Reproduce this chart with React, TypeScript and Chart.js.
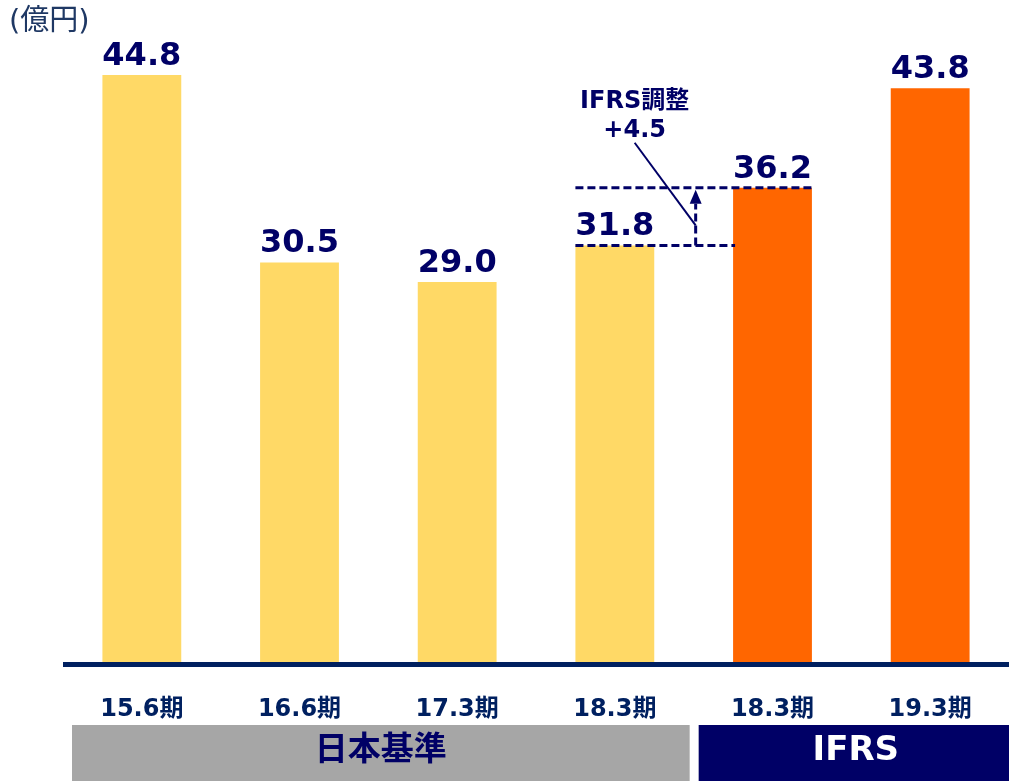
import React, { useEffect, useRef } from "react";
import { Chart, registerables } from "chart.js";

Chart.register(...registerables);

const categories = ["15.6期", "16.6期", "17.3期", "18.3期", "18.3期", "19.3期"];
const values = [44.8, 30.5, 29.0, 31.8, 36.2, 43.8];
const standards = ["jgaap", "jgaap", "jgaap", "jgaap", "ifrs", "ifrs"];
const groupLabels = ["日本基準", "IFRS"];
const unitLabel = "(億円)";
const adjustmentTitle = "IFRS調整";
const adjustmentValue = "+4.5";
const adjustmentFrom = 3; // index of 18.3期 (JGAAP)
const adjustmentTo = 4; // index of 18.3期 (IFRS)

const NAVY = "#000066";
const AXIS_NAVY = "#002060";
const LATIN = "'DejaVu Sans', 'Noto Sans CJK JP', sans-serif";

const overlayPlugin = {
  id: "overlay",
  afterDatasetsDraw(chart: any) {
    const { ctx, chartArea, scales } = chart;
    const x = scales.x;
    const y = scales.y;
    const meta = chart.getDatasetMeta(0);
    ctx.save();

    // unit label
    ctx.fillStyle = "#1F3864";
    ctx.font = `29px ${LATIN}`;
    ctx.textAlign = "left";
    ctx.textBaseline = "top";
    ctx.fillText(unitLabel, 9, 8);

    // value labels
    ctx.fillStyle = NAVY;
    ctx.font = `bold 32px ${LATIN}`;
    ctx.textAlign = "center";
    ctx.textBaseline = "alphabetic";
    meta.data.forEach((el: any, i: number) => {
      ctx.fillText(values[i].toFixed(1), el.x, el.y - 10);
    });

    // axis line
    ctx.fillStyle = AXIS_NAVY;
    ctx.fillRect(chartArea.left, chartArea.bottom, chart.width - chartArea.left, 5);

    // x labels
    ctx.fillStyle = AXIS_NAVY;
    ctx.font = `bold 24px ${LATIN}`;
    categories.forEach((c, i) => {
      ctx.fillText(c, x.getPixelForValue(i), 716);
    });

    // group boxes
    const split = x.getPixelForValue(3.5);
    const boxTop = 725;
    const boxH = chart.height - boxTop;
    ctx.fillStyle = "#A6A6A6";
    ctx.fillRect(chartArea.left + 9, boxTop, split - 4 - (chartArea.left + 9), boxH);
    ctx.fillStyle = NAVY;
    ctx.fillRect(split + 5, boxTop, chart.width - (split + 5), boxH);
    ctx.textBaseline = "middle";
    ctx.fillStyle = NAVY;
    ctx.font = `bold 33px ${LATIN}`;
    ctx.fillText(groupLabels[0], (chartArea.left + 9 + split - 4) / 2, 751);
    ctx.fillStyle = "#FFFFFF";
    ctx.font = `bold 34px ${LATIN}`;
    ctx.fillText(groupLabels[1], (split + 5 + chart.width) / 2 + 2, 751);

    // adjustment annotation
    const fromEl = meta.data[adjustmentFrom];
    const toEl = meta.data[adjustmentTo];
    const yLow = y.getPixelForValue(values[adjustmentFrom]);
    const yHigh = y.getPixelForValue(values[adjustmentTo]);
    const leftX = fromEl.x - fromEl.width / 2;
    const rightX = toEl.x + toEl.width / 2;
    const toLeft = toEl.x - toEl.width / 2;
    const ax = (fromEl.x + fromEl.width / 2 + toLeft) / 2 + 2;

    ctx.strokeStyle = NAVY;
    ctx.lineWidth = 3;
    ctx.setLineDash([8, 4]);
    ctx.beginPath();
    ctx.moveTo(leftX, yHigh);
    ctx.lineTo(rightX, yHigh);
    ctx.moveTo(leftX, yLow);
    ctx.lineTo(toLeft + 2, yLow);
    ctx.stroke();

    // arrow shaft
    const headLen = 14;
    ctx.beginPath();
    ctx.moveTo(ax, yLow);
    ctx.lineTo(ax, yHigh + 2 + headLen);
    ctx.stroke();
    ctx.setLineDash([]);
    ctx.fillStyle = NAVY;
    ctx.beginPath();
    ctx.moveTo(ax, yHigh + 2);
    ctx.lineTo(ax - 6, yHigh + 2 + headLen);
    ctx.lineTo(ax + 6, yHigh + 2 + headLen);
    ctx.closePath();
    ctx.fill();

    // leader line
    const tx = ax - 61;
    ctx.lineWidth = 2;
    ctx.beginPath();
    ctx.moveTo(tx, yHigh - 45);
    ctx.lineTo(ax, yLow - 20);
    ctx.stroke();

    ctx.fillStyle = NAVY;
    ctx.textBaseline = "alphabetic";
    ctx.textAlign = "center";
    ctx.font = `bold 24px ${LATIN}`;
    ctx.fillText(adjustmentTitle, tx, yHigh - 80);
    ctx.fillText(adjustmentValue, tx, yHigh - 51);

    ctx.restore();
  },
};

export default function App() {
  const ref = useRef<HTMLCanvasElement | null>(null);
  useEffect(() => {
    if (!ref.current) return;
    const chart = new Chart(ref.current, {
      type: "bar",
      data: {
        labels: categories,
        datasets: [
          {
            data: values,
            backgroundColor: standards.map((s) => (s === "ifrs" ? "#FF6600" : "#FFD966")),
            borderWidth: 0,
            barPercentage: 0.5,
            categoryPercentage: 1.0,
          },
        ],
      },
      options: {
        responsive: false,
        animation: false,
        devicePixelRatio: 1,
        layout: { padding: { left: 63, right: 0, top: 7, bottom: 119 } },
        plugins: { legend: { display: false }, tooltip: { enabled: false } },
        scales: {
          x: { display: false },
          y: { display: false, min: 0, max: 50 },
        },
      },
      plugins: [overlayPlugin],
    });
    return () => chart.destroy();
  }, []);
  return (
    <div style={{ position: "absolute", left: 0, top: 0, width: 1009, height: 781, background: "#fff" }}>
      <canvas ref={ref} width={1009} height={781} style={{ display: "block" }} />
    </div>
  );
}
